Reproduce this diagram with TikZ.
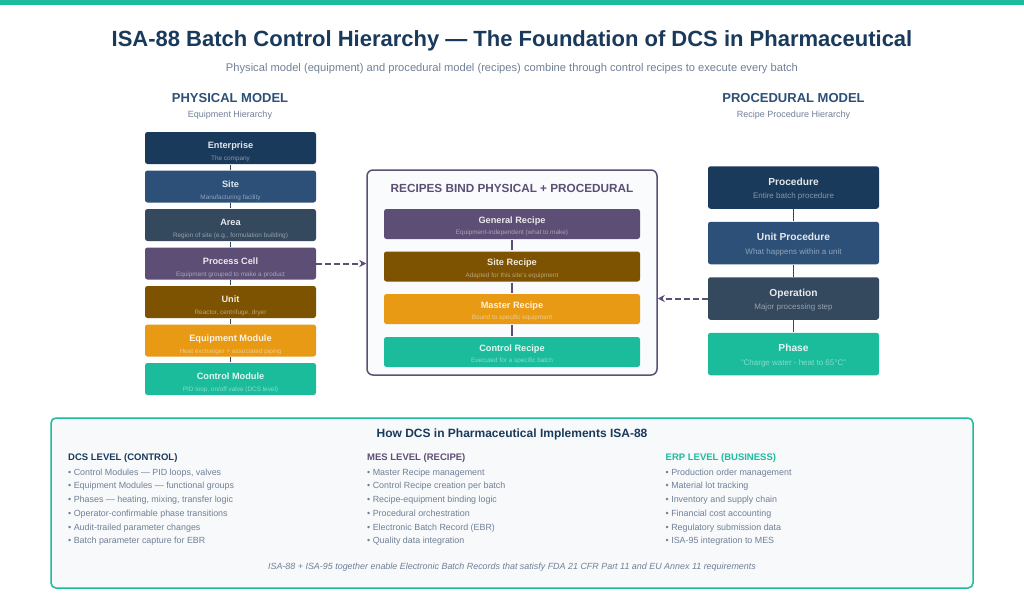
\documentclass[tikz,border=0pt]{standalone}
\usepackage{fontspec}
\setmainfont{Liberation Sans}
\usetikzlibrary{arrows.meta}

\definecolor{navy}{HTML}{1A3A5C}
\definecolor{steel}{HTML}{2C5078}
\definecolor{slate}{HTML}{34495E}
\definecolor{plum}{HTML}{5D4E75}
\definecolor{umber}{HTML}{7D5200}
\definecolor{amber}{HTML}{E89A14}
\definecolor{teal}{HTML}{1ABC9C}
\definecolor{greytext}{HTML}{718096}
\definecolor{panelbg}{HTML}{F7F9FB}
\definecolor{innerbg}{HTML}{FAFBFD}

\newcommand{\fs}[1]{\fontsize{#1}{#1}\selectfont}

\tikzset{
 hierbox/.style={rounded corners=2.5pt,minimum width=171pt,align=center,inner sep=0pt,fill=#1,
   execute at begin node={\colorlet{headcol}{white!88!#1}\colorlet{subcol}{white!48!#1}}},
 cellbox/.style={hierbox=#1,minimum height=32pt},
 recipebox/.style={hierbox=#1,minimum height=30pt,minimum width=256pt},
 procbox/.style={hierbox=#1,minimum height=42.5pt},
 hierline/.style={draw=slate,line width=1.5pt,shorten <=0.5pt,shorten >=0.5pt},
 bindline/.style={draw=plum,line width=2pt,shorten <=1pt,shorten >=1pt},
 bindarrow/.style={draw=plum,line width=2pt,dash pattern=on 5.5pt off 3.5pt,-{Stealth[length=7pt,width=7pt]}},
 listcol/.style={anchor=north west,align=left,inner sep=0pt,text=greytext,font=\fontsize{8.9}{13.75}\selectfont},
 listhead/.style={anchor=north west,inner sep=0pt,font=\bfseries\fs{9.5}},
}

\newcommand{\cell}[2]{\rule{0pt}{15pt}{\color{headcol}\bfseries\fs{9.2}#1}\\[0.3pt]{\color{subcol}\fs{6.4}#2}}
\newcommand{\recipe}[2]{\rule{0pt}{11pt}{\color{headcol}\bfseries\fs{9.2}#1}\\[-0.6pt]{\color{subcol}\fs{6.4}#2}}
\newcommand{\proc}[2]{\rule{0pt}{11pt}{\color{headcol}\bfseries\fs{10.2}#1}\\[1.4pt]{\color{subcol}\fs{8}#2}}

\begin{document}
\begin{tikzpicture}[x=1pt,y=-1pt]
\useasboundingbox (0,0) rectangle (1024,597);
\fill[white] (0,0) rectangle (1024,597);
\fill[teal] (0,0) rectangle (1024,5);

% heading
\node[text=navy,font=\bfseries\fs{22}] (title) at (512,41) {ISA-88 Batch Control Hierarchy — The Foundation of DCS in Pharmaceutical};
\node[text=greytext,font=\fs{11.15}] (subtitle) at (512,68.5) {Physical model (equipment) and procedural model (recipes) combine through control recipes to execute every batch};

% physical model
\node[text=steel,font=\bfseries\fs{13}] (phystitle) at (230,98.2) {PHYSICAL MODEL};
\node[text=greytext,font=\fs{9}] (physsub) at (230,115.5) {Equipment Hierarchy};

\node[cellbox=navy] (enterprise) at (230.5,148) {\cell{Enterprise}{The company}};
\node[cellbox=steel] (site) at (230.5,186.5) {\cell{Site}{Manufacturing facility}};
\node[cellbox=slate] (area) at (230.5,225) {\cell{Area}{Region of site (e.g., formulation building)}};
\node[cellbox=plum] (cell) at (230.5,263.5) {\cell{Process Cell}{Equipment grouped to make a product}};
\node[cellbox=umber] (unit) at (230.5,302) {\cell{Unit}{Reactor, centrifuge, dryer}};
\node[cellbox=amber] (equipment) at (230.5,340.5) {\cell{Equipment Module}{Heat exchanger + associated piping}};
\node[cellbox=teal] (control) at (230.5,379) {\cell{Control Module}{PID loop, on/off valve (DCS level)}};

\draw[hierline] (enterprise) -- (site);
\draw[hierline] (site) -- (area);
\draw[hierline] (area) -- (cell);
\draw[hierline] (cell) -- (unit);
\draw[hierline] (unit) -- (equipment);
\draw[hierline] (equipment) -- (control);

% recipes
\node[draw=plum,fill=innerbg,line width=1.5pt,rounded corners=6pt,minimum width=290pt,minimum height=205pt] (recipes) at (512,272.5) {};
\node[text=plum,font=\bfseries\fs{11.75}] (recipestitle) at (512,188) {RECIPES BIND PHYSICAL + PROCEDURAL};

\node[recipebox=plum] (general) at (512,224) {\recipe{General Recipe}{Equipment-independent (what to make)}};
\node[recipebox=umber] (siterecipe) at (512,266.5) {\recipe{Site Recipe}{Adapted for this site's equipment}};
\node[recipebox=amber] (master) at (512,309) {\recipe{Master Recipe}{Bound to specific equipment}};
\node[recipebox=teal] (controlrecipe) at (512,352) {\recipe{Control Recipe}{Executed for a specific batch}};

\draw[bindline] (general) -- (siterecipe);
\draw[bindline] (siterecipe) -- (master);
\draw[bindline] (master) -- (controlrecipe);

% procedural model
\node[text=steel,font=\bfseries\fs{13}] (proctitle) at (793.5,98.2) {PROCEDURAL MODEL};
\node[text=greytext,font=\fs{9}] (procsub) at (793.5,115.5) {Recipe Procedure Hierarchy};

\node[procbox=navy] (procedure) at (793.5,187.5) {\proc{Procedure}{Entire batch procedure}};
\node[procbox=steel] (unitproc) at (793.5,243) {\proc{Unit Procedure}{What happens within a unit}};
\node[procbox=slate] (operation) at (793.5,298.5) {\proc{Operation}{Major processing step}};
\node[procbox=teal] (phase) at (793.5,354) {\proc{Phase}{"Charge water - heat to 65°C"}};

\draw[hierline] (procedure) -- (unitproc);
\draw[hierline] (unitproc) -- (operation);
\draw[hierline] (operation) -- (phase);

% links into the recipes box
\draw[bindarrow] (cell.east) -- (cell.east -| recipes.west);
\draw[bindarrow] (operation.west) -- (operation.west -| recipes.east);

% DCS panel
\node[draw=teal,fill=panelbg,line width=1.5pt,rounded corners=5pt,minimum width=922pt,minimum height=170pt] (panel) at (512,503) {};
\node[text=navy,font=\bfseries\fs{12}] (paneltitle) at (512,434) {How DCS in Pharmaceutical Implements ISA-88};

\node[listhead,text=navy] (dcshead) at (68,453.5) {DCS LEVEL (CONTROL)};
\node[listhead,text=plum] (meshead) at (367,453.5) {MES LEVEL (RECIPE)};
\node[listhead,text=teal] (erphead) at (665.5,453.5) {ERP LEVEL (BUSINESS)};

\node[listcol] (dcslist) at (68,468.5) {• Control Modules — PID loops, valves\\
• Equipment Modules — functional groups\\
• Phases — heating, mixing, transfer logic\\
• Operator-confirmable phase transitions\\
• Audit-trailed parameter changes\\
• Batch parameter capture for EBR};
\node[listcol] (meslist) at (367,468.5) {• Master Recipe management\\
• Control Recipe creation per batch\\
• Recipe-equipment binding logic\\
• Procedural orchestration\\
• Electronic Batch Record (EBR)\\
• Quality data integration};
\node[listcol] (erplist) at (665.5,468.5) {• Production order management\\
• Material lot tracking\\
• Inventory and supply chain\\
• Financial cost accounting\\
• Regulatory submission data\\
• ISA-95 integration to MES};

\node[text=greytext,font=\itshape\fs{8.93}] (footnote) at (512,567) {ISA-88 + ISA-95 together enable Electronic Batch Records that satisfy FDA 21 CFR Part 11 and EU Annex 11 requirements};
\end{tikzpicture}
\end{document}
